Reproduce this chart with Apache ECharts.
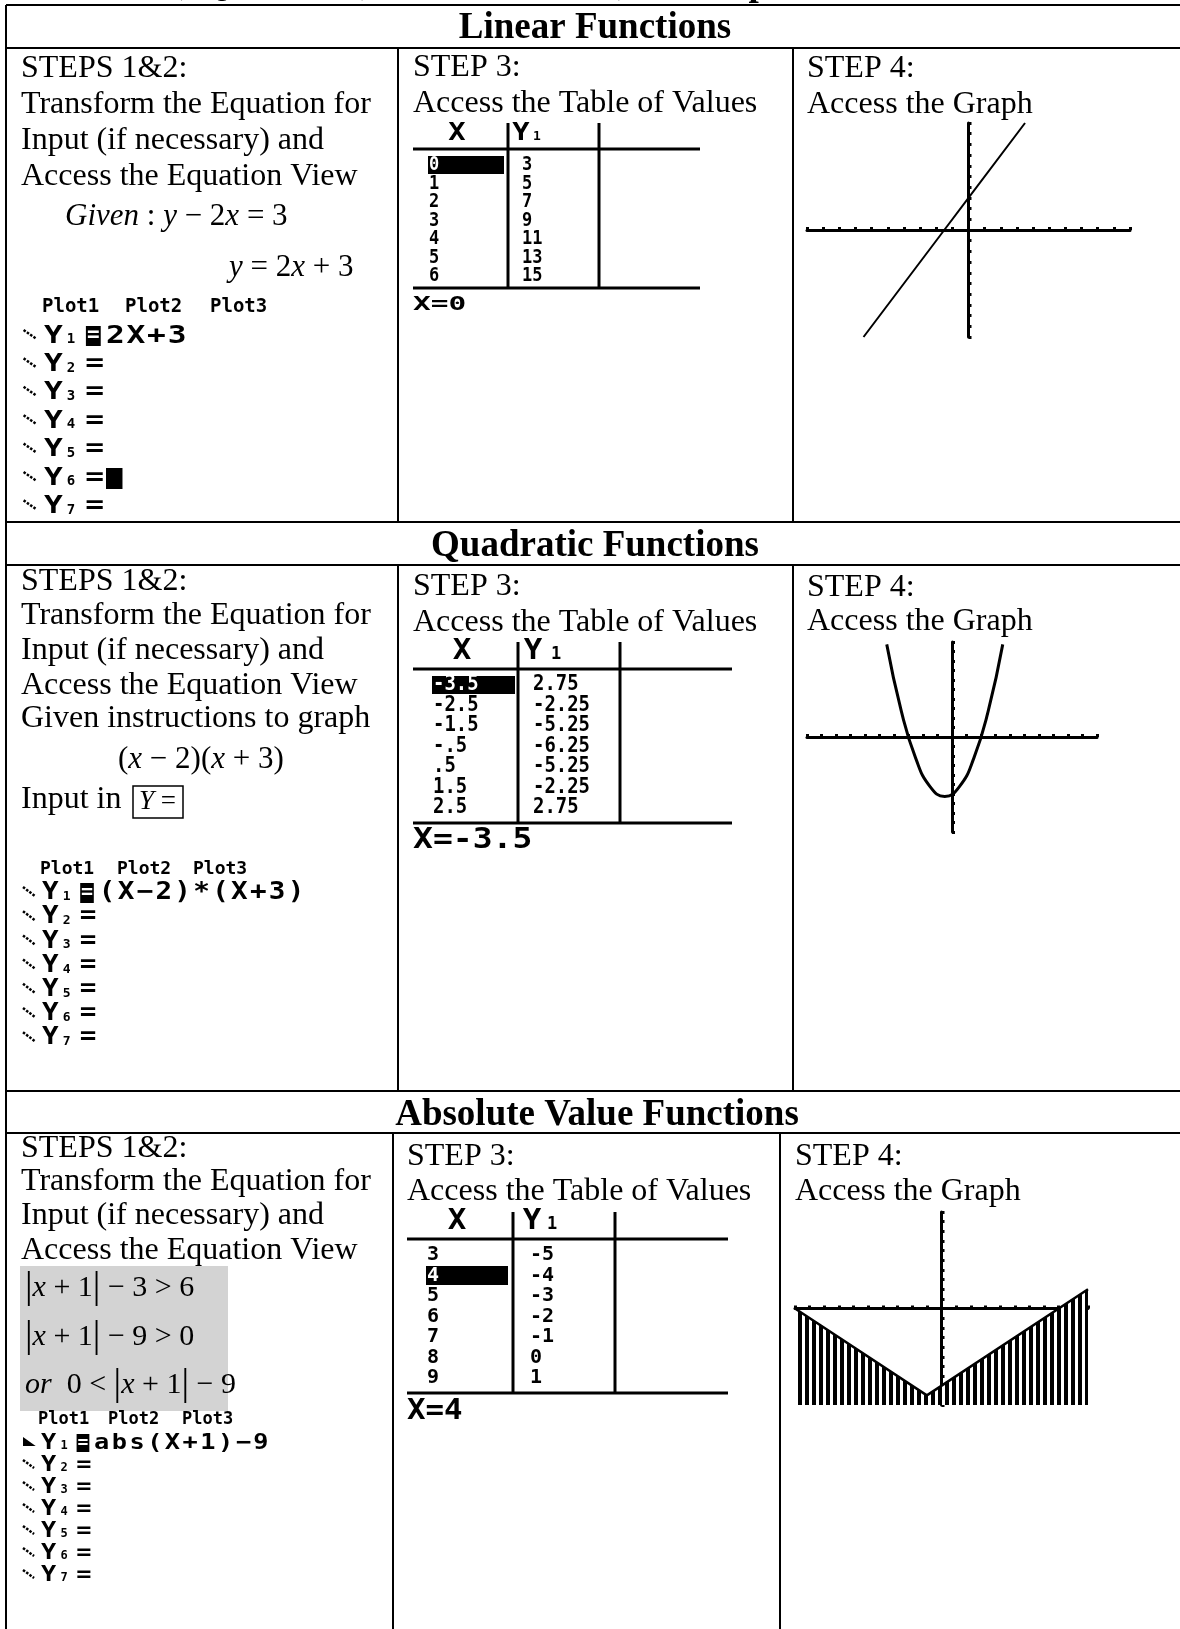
<!DOCTYPE html>
<html>
<head>
<meta charset="utf-8">
<script src="https://cdn.jsdelivr.net/npm/echarts@6/dist/echarts.min.js"></script>
<style>
  html, body { margin: 0; padding: 0; background: #fff; }
  #chart { width: 1180px; height: 1629px; }
</style>
</head>
<body>
<div id="chart"></div>
<script>
var SERIF = '"Liberation Serif", "Times New Roman", serif';
var MONO = '"DejaVu Sans Mono", monospace';

// headings and instructions
var docTitle = 'Linear, Quadratic, Absolute Value, and Exponential Functions';
var sectionTitles = ['Linear Functions', 'Quadratic Functions', 'Absolute Value Functions'];
var stepsLeft = ['STEPS 1&2:', 'Transform the Equation for', 'Input (if necessary) and', 'Access the Equation View'];
var stepsMid = ['STEP 3:', 'Access the Table of Values'];
var stepsRight = ['STEP 4:', 'Access the Graph'];

// Y= screens
var plotLabels = ['Plot1', 'Plot2', 'Plot3'];
var linearYEq = ['2X+3', '', '', '', '', '', ''];
var quadYEq = ['(X-2)*(X+3)', '', '', '', '', '', ''];
var absYEq = ['abs(X+1)-9', '', '', '', '', '', ''];

// table of values screens
var linearTableX = ['0', '1', '2', '3', '4', '5', '6'];
var linearTableY = ['3', '5', '7', '9', '11', '13', '15'];
var quadTableX = ['-3.5', '-2.5', '-1.5', '-.5', '.5', '1.5', '2.5'];
var quadTableY = ['2.75', '-2.25', '-5.25', '-6.25', '-5.25', '-2.25', '2.75'];
var absTableX = ['3', '4', '5', '6', '7', '8', '9'];
var absTableY = ['-5', '-4', '-3', '-2', '-1', '0', '1'];

// graph screens (standard window -10..10)
var linearGraphX = [-6.5, -1.5, 0, 3.5];
var linearGraphY = [-10, 0, 3, 10];
var quadGraphX = [-4.5, -3.5, -2.5, -1.5, -0.5, 0.5, 1.5, 2.5, 3.5];
var quadGraphY = [9.75, 2.75, -2.25, -5.25, -6.25, -5.25, -2.25, 2.75, 9.75];
var absGraphX = [-10, -1, 10];
var absGraphY = [0, -9, 2];

function txt(x, y, s, o) {
  o = o || {};
  var el = {
    type: 'text', x: x, y: y, silent: true,
    scaleX: o.sx || 1,
    style: {
      text: s,
      fill: o.fill || '#000',
      fontFamily: o.ff || SERIF,
      fontSize: o.fs || 32,
      fontWeight: o.fw || 'normal',
      fontStyle: o.it ? 'italic' : 'normal',
      align: o.align || 'left',
      verticalAlign: 'middle'
    }
  };
  if (o.rich) {
    el.style.rich = o.rich;
  }
  return el;
}

function hline(x1, x2, y, w) {
  return { type: 'line', silent: true, shape: { x1: x1, y1: y, x2: x2, y2: y }, style: { stroke: '#000', lineWidth: w || 2 } };
}

function vline(x, y1, y2, w) {
  return { type: 'line', silent: true, shape: { x1: x, y1: y1, x2: x, y2: y2 }, style: { stroke: '#000', lineWidth: w || 2 } };
}

function box(x, y, w, h, fill) {
  return { type: 'rect', silent: true, shape: { x: x, y: y, width: w, height: h }, style: { fill: fill || '#000' } };
}

function mathRich(fs) {
  return {
    i: { fontFamily: SERIF, fontSize: fs, fontStyle: 'italic', fill: '#000' },
    n: { fontFamily: SERIF, fontSize: fs, fill: '#000' },
    b: { fontFamily: SERIF, fontSize: Math.round(fs * 1.25), fill: '#000' }
  };
}

function textBlock(x, ys, lines, els) {
  lines.forEach(function (line, i) {
    els.push(txt(x, ys[i], line));
  });
}

// calculator Y= editor
function yScreen(cfg, eqs, els) {
  plotLabels.forEach(function (p, k) {
    els.push(txt(cfg.plotX[k], cfg.plotY, p, { ff: MONO, fs: cfg.plotFs, fw: 'bold' }));
  });
  function col(c) { return cfg.x0 + c * cfg.cw; }
  var big = { ff: MONO, fs: cfg.fs, fw: 'bold', sx: cfg.sx, align: 'center' };
  eqs.forEach(function (eq, i) {
    var y = cfg.y1 + i * cfg.pitch;
    var h = cfg.h;
    if (i === 0 && cfg.shade) {
      els.push({ type: 'polygon', silent: true, shape: { points: [[col(0) + 1, y - h / 2 + 2], [col(0) + 1, y + 3], [col(0) + cfg.cw - 4, y + 3]] }, style: { fill: '#000' } });
    } else {
      els.push({ type: 'line', silent: true, shape: { x1: col(0) + 1, y1: y - h / 2 + 3, x2: col(0) + cfg.cw * 0.68, y2: y + 3 }, style: { stroke: '#000', lineWidth: 2.5, lineDash: [2.5, 1.5] } });
    }
    els.push(txt(col(1) + cfg.cw / 2, y, 'Y', big));
    els.push(txt(col(2) + 3, y + h * 0.2, String(i + 1), { ff: MONO, fs: cfg.subFs, fw: 'bold' }));
    if (eq) {
      els.push(box(col(3) + 1.5, y - h / 2 - 1, cfg.cw * 0.72, h + 2));
      els.push(txt(col(3) + 1.5 + cfg.cw * 0.36, y, '=', { ff: MONO, fs: cfg.fs - 4, fw: 'bold', fill: '#fff', align: 'center' }));
      eq.split('').forEach(function (ch, k) {
        els.push(txt(col(4 + k) + cfg.cw / 2, y, ch === '-' ? '\u2212' : ch, big));
      });
    } else {
      els.push(txt(col(3) + cfg.cw / 2, y, '=', big));
    }
    if (i === cfg.cursorRow) {
      els.push(box(col(4) + 1, y - h / 2 - 1, cfg.cw * 0.8, h + 3));
    }
  });
}

// calculator table screen
function valueTable(cfg, xs, ys, hl, els) {
  els.push(vline(cfg.v1, cfg.top, cfg.bottom, 3));
  els.push(vline(cfg.v2, cfg.top, cfg.bottom, 3));
  els.push(hline(cfg.left, cfg.right, cfg.hLine, 3));
  els.push(hline(cfg.left, cfg.right, cfg.bottom, 3));
  var head = { ff: MONO, fs: cfg.hFs, fw: 'bold', sx: cfg.hSx, align: 'center' };
  els.push(txt(cfg.hX, cfg.hY, 'X', head));
  els.push(txt(cfg.hYx, cfg.hY, 'Y', head));
  els.push(txt(cfg.hSub, cfg.hY + 3, '1', { ff: MONO, fs: cfg.hFs - 11, fw: 'bold' }));
  var cell = { ff: MONO, fs: cfg.fs, fw: 'bold', sx: cfg.sx };
  xs.forEach(function (xv, i) {
    var y = cfg.r0 + i * cfg.pitch;
    if (i === hl) {
      els.push(box(cfg.xCol - 1, y - cfg.rowH / 2, cfg.hlW, cfg.rowH));
      els.push(txt(cfg.xCol, y, xv, { ff: MONO, fs: cfg.fs, fw: 'bold', sx: cfg.sx, fill: '#fff' }));
    } else {
      els.push(txt(cfg.xCol, y, xv, cell));
    }
    els.push(txt(cfg.yCol, y, ys[i], cell));
  });
  els.push(txt(cfg.left, cfg.fY, 'X=' + xs[hl], { ff: MONO, fs: cfg.fFs, fw: 'bold', sx: cfg.fSx }));
}

var els = [];

// cut-off document title and table rules
els.push(txt(77, -15, docTitle, { fs: 37, fw: 'bold' }));
[5, 48, 522, 565, 1091, 1133].forEach(function (y) { els.push(hline(6, 1180, y)); });
els.push(vline(6, 5, 1629));
els.push(vline(398, 48, 522));
els.push(vline(793, 48, 522));
els.push(vline(398, 565, 1091));
els.push(vline(793, 565, 1091));
els.push(vline(393, 1133, 1629));
els.push(vline(780, 1133, 1629));

els.push(txt(595, 28, sectionTitles[0], { fs: 37, fw: 'bold', align: 'center' }));
els.push(txt(595, 546, sectionTitles[1], { fs: 37, fw: 'bold', align: 'center' }));
els.push(txt(597, 1115, sectionTitles[2], { fs: 37, fw: 'bold', align: 'center' }));

// row 1: linear
textBlock(21, [69, 105, 141, 177], stepsLeft, els);
els.push(txt(65, 217, '{i|Given}{n| : }{i|y}{n| \u2212 2}{i|x}{n| = 3}', { rich: mathRich(31) }));
els.push(txt(229, 268, '{i|y}{n| = 2}{i|x}{n| + 3}', { rich: mathRich(31) }));
textBlock(413, [68, 104], stepsMid, els);
textBlock(807, [69, 105], stepsRight, els);
yScreen({ x0: 22.6, cw: 20.6, y1: 336, pitch: 28.4, h: 18, fs: 25, sx: 1.25, subFs: 14,
  plotX: [42, 125, 210], plotY: 307, plotFs: 19, cursorRow: 5 }, linearYEq, els);
valueTable({ left: 413, right: 700, top: 123, bottom: 288, hLine: 149, v1: 508, v2: 599,
  hX: 457, hYx: 521, hSub: 533, hY: 134, hFs: 24, hSx: 1.2,
  r0: 165, pitch: 18.5, xCol: 429, yCol: 522, fs: 20, sx: 0.85, rowH: 18, hlW: 76,
  fY: 305, fFs: 19, fSx: 1.55 }, linearTableX, linearTableY, 0, els);

// row 2: quadratic
textBlock(21, [582, 616, 651, 686], stepsLeft, els);
els.push(txt(21, 719, 'Given instructions to graph'));
els.push(txt(118, 760, '{n|(}{i|x}{n| \u2212 2)(}{i|x}{n| + 3)}', { rich: mathRich(31) }));
els.push(txt(21, 800, 'Input in'));
els.push({ type: 'rect', silent: true, shape: { x: 133, y: 786, width: 50, height: 32 }, style: { fill: 'none', stroke: '#000', lineWidth: 1.5 } });
els.push(txt(139, 802, '{i|Y}{n| =}', { rich: mathRich(27) }));
textBlock(413, [587, 623], stepsMid, els);
textBlock(807, [588, 622], stepsRight, els);
yScreen({ x0: 22, cw: 18.9, y1: 893, pitch: 24.2, h: 18, fs: 24, sx: 1.15, subFs: 13,
  plotX: [40, 117, 193], plotY: 869, plotFs: 18, cursorRow: -1 }, quadYEq, els);
valueTable({ left: 413, right: 732, top: 642, bottom: 823, hLine: 669, v1: 518, v2: 620,
  hX: 462, hYx: 533, hSub: 551, hY: 652, hFs: 28, hSx: 1.1,
  r0: 685, pitch: 20.5, xCol: 433, yCol: 533, fs: 21, sx: 0.9, rowH: 18, hlW: 83,
  fY: 841, fFs: 28, fSx: 1.18 }, quadTableX, quadTableY, 0, els);

// row 3: absolute value
textBlock(21, [1149, 1182, 1216, 1251], stepsLeft, els);
els.push(box(20, 1266, 208, 145, '#d3d3d3'));
els.push(txt(25, 1288, '{b||}{i|x}{n| + 1}{b||}{n| \u2212 3 > 6}', { rich: mathRich(30) }));
els.push(txt(25, 1337, '{b||}{i|x}{n| + 1}{b||}{n| \u2212 9 > 0}', { rich: mathRich(30) }));
els.push(txt(25, 1385, '{i|or}{n|  0 < }{b||}{i|x}{n| + 1}{b||}{n| \u2212 9}', { rich: mathRich(30) }));
textBlock(407, [1157, 1192], stepsMid, els);
textBlock(795, [1157, 1192], stepsRight, els);
yScreen({ x0: 22, cw: 17.7, y1: 1443, pitch: 22, h: 16, fs: 22, sx: 1.15, subFs: 12,
  plotX: [38, 108, 182], plotY: 1420, plotFs: 17, cursorRow: -1, shade: true }, absYEq, els);
valueTable({ left: 407, right: 728, top: 1212, bottom: 1393, hLine: 1239, v1: 513, v2: 615,
  hX: 457, hYx: 532, hSub: 547, hY: 1222, hFs: 28, hSx: 1.1,
  r0: 1255, pitch: 20.5, xCol: 427, yCol: 530, fs: 20, sx: 1.0, rowH: 19, hlW: 82,
  fY: 1412, fFs: 28, fSx: 1.1 }, absTableX, absTableY, 1, els);

// vertical stripe pattern for the shaded inequality
var stripe = document.createElement('canvas');
stripe.width = 7;
stripe.height = 4;
var sctx = stripe.getContext('2d');
sctx.fillStyle = '#fff';
sctx.fillRect(0, 0, 7, 4);
sctx.fillStyle = '#000';
sctx.fillRect(0, 0, 4, 4);

function pairs(xs, ys) {
  return xs.map(function (x, i) { return [x, ys[i]]; });
}

function calcAxis(i) {
  return {
    gridIndex: i, type: 'value', min: -10, max: 10, interval: 1,
    axisLine: { onZero: true, lineStyle: { color: '#000', width: 3 } },
    axisTick: { show: true, inside: true, length: 3, lineStyle: { color: '#000', width: 3 } },
    axisLabel: { show: false },
    splitLine: { show: false }
  };
}

var chart = echarts.init(document.getElementById('chart'), null, { renderer: 'canvas' });
chart.setOption({
  animation: false,
  backgroundColor: '#fff',
  grid: [
    { left: 807, top: 123, width: 323, height: 214 },
    { left: 807, top: 642, width: 290, height: 190 },
    { left: 795, top: 1212, width: 293, height: 193 }
  ],
  xAxis: [calcAxis(0), calcAxis(1), calcAxis(2)],
  yAxis: [calcAxis(0), calcAxis(1), calcAxis(2)],
  series: [
    {
      type: 'line', xAxisIndex: 0, yAxisIndex: 0,
      data: pairs(linearGraphX, linearGraphY),
      symbol: 'none',
      lineStyle: { color: '#000', width: 2 }
    },
    {
      type: 'line', xAxisIndex: 1, yAxisIndex: 1,
      data: pairs(quadGraphX, quadGraphY),
      smooth: true,
      symbol: 'none',
      lineStyle: { color: '#000', width: 3 }
    },
    {
      type: 'line', xAxisIndex: 2, yAxisIndex: 2,
      data: pairs(absGraphX, absGraphY),
      symbol: 'none',
      lineStyle: { color: '#000', width: 2.5 },
      areaStyle: { origin: 'start', opacity: 1, color: { image: stripe, repeat: 'repeat' } }
    }
  ],
  graphic: { elements: els }
});
</script>
</body>
</html>
